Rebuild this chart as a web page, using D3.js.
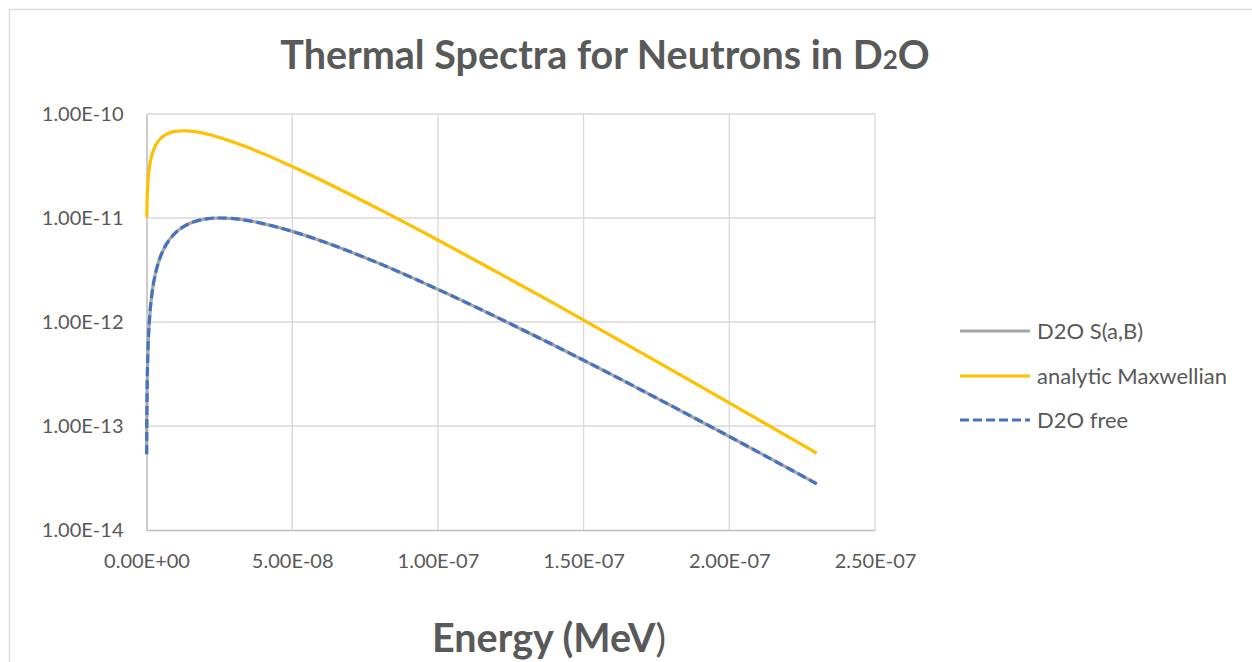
<!DOCTYPE html>
<html>
<head>
<meta charset="utf-8">
<script src="https://cdn.jsdelivr.net/npm/d3@7"></script>
<style>
	body { margin: 0; background: #fff; }
	svg { display: block; }
	text { font-family: Lato, "Open Sans", sans-serif; fill: #595959; }
</style>
</head>
<body>
<div id="chart"></div>
<script>
// values (energy in MeV)
let energyMaxwell = [1e-10, 2e-10, 5e-10, 1e-9, 2e-9, 3e-9, 4e-9, 6e-9, 8e-9, 1e-8, 1.3e-8, 1.6e-8, 2e-8, 2.5e-8, 3e-8, 4e-8, 5e-8, 6e-8, 8e-8, 1e-7, 1.2e-7, 1.4e-7, 1.6e-7, 1.8e-7, 2e-7, 2.2e-7, 2.3e-7];
let maxwellian = [1.01e-11, 1.42e-11, 2.22e-11, 3.07e-11, 4.18e-11, 4.92e-11, 5.46e-11, 6.18e-11, 6.59e-11, 6.81e-11, 6.90e-11, 6.80e-11, 6.49e-11, 5.95e-11, 5.35e-11, 4.16e-11, 3.13e-11, 2.31e-11, 1.21e-11, 6.14e-12, 3.05e-12, 1.50e-12, 7.25e-13, 3.49e-13, 1.67e-13, 7.94e-14, 5.47e-14];

let energyD2O = [5e-11, 1e-10, 2e-10, 5e-10, 1e-9, 2e-9, 3e-9, 4e-9, 6e-9, 8e-9, 1e-8, 1.3e-8, 1.6e-8, 2e-8, 2.5e-8, 3e-8, 4e-8, 5e-8, 6e-8, 8e-8, 1e-7, 1.2e-7, 1.4e-7, 1.6e-7, 1.8e-7, 2e-7, 2.2e-7, 2.3e-7];
let d2oSab = [5.36e-14, 1.07e-13, 2.13e-13, 5.27e-13, 1.03e-12, 1.99e-12, 2.86e-12, 3.67e-12, 5.08e-12, 6.26e-12, 7.24e-12, 8.35e-12, 9.13e-12, 9.75e-12, 1.00e-11, 9.85e-12, 8.84e-12, 7.44e-12, 6.02e-12, 3.64e-12, 2.06e-12, 1.12e-12, 5.94e-13, 3.08e-13, 1.57e-13, 7.93e-14, 3.95e-14, 2.78e-14];
let d2oFree = [5.36e-14, 1.07e-13, 2.13e-13, 5.27e-13, 1.03e-12, 1.99e-12, 2.86e-12, 3.67e-12, 5.08e-12, 6.26e-12, 7.24e-12, 8.35e-12, 9.13e-12, 9.75e-12, 1.00e-11, 9.85e-12, 8.84e-12, 7.44e-12, 6.02e-12, 3.64e-12, 2.06e-12, 1.12e-12, 5.94e-13, 3.08e-13, 1.57e-13, 7.93e-14, 3.95e-14, 2.78e-14];

let xTicks = [0, 5e-8, 1e-7, 1.5e-7, 2e-7, 2.5e-7];
let yTicks = [1e-10, 1e-11, 1e-12, 1e-13, 1e-14];

let seriesNames = ["D2O S(a,B)", "analytic Maxwellian", "D2O free"];

let W = 1252, H = 662;
let plot = { left: 146.5, right: 875, top: 114, bottom: 530 };

let svg = d3.select('#chart').append('svg')
	.attr('width', W)
	.attr('height', H);

// chart frame
svg.append('rect')
	.attr('x', 9.5).attr('y', 9.5)
	.attr('width', 1300).attr('height', 700)
	.attr('fill', 'none')
	.attr('stroke', '#d9d9d9')
	.attr('stroke-width', 1.3);

let x = d3.scaleLinear()
	.domain([0, 2.5e-7])
	.range([plot.left, plot.right]);

let y = d3.scaleLog()
	.domain([1e-14, 1e-10])
	.range([plot.bottom, plot.top]);

// Excel style scientific format, e.g. 1.00E-10
function fmtE(v) {
	let s = v.toExponential(2).toUpperCase();
	let parts = s.split('E');
	let exp = +parts[1];
	let sign = exp < 0 ? '-' : '+';
	let e = Math.abs(exp);
	return parts[0] + 'E' + sign + (e < 10 ? '0' + e : e);
}

// gridlines
svg.append('g').selectAll('line')
	.data(yTicks.slice(0, 4))
	.enter().append('line')
	.attr('x1', plot.left).attr('x2', plot.right)
	.attr('y1', d => y(d)).attr('y2', d => y(d))
	.attr('stroke', '#d9d9d9').attr('stroke-width', 1.3);

svg.append('g').selectAll('line')
	.data(xTicks.slice(1))
	.enter().append('line')
	.attr('x1', d => x(d)).attr('x2', d => x(d))
	.attr('y1', plot.top).attr('y2', plot.bottom)
	.attr('stroke', '#d9d9d9').attr('stroke-width', 1.3);

// axes
let xAxis = d3.axisBottom(x)
	.tickValues(xTicks)
	.tickFormat(fmtE)
	.tickSize(0)
	.tickPadding(24);

let yAxis = d3.axisLeft(y)
	.tickValues(yTicks)
	.tickFormat(fmtE)
	.tickSize(0)
	.tickPadding(23);

let gx = svg.append('g')
	.attr('transform', 'translate(0,' + plot.bottom + ')')
	.call(xAxis);

let gy = svg.append('g')
	.attr('transform', 'translate(' + plot.left + ',0)')
	.call(yAxis);

[gx, gy].forEach(function(g) {
	g.select('.domain').attr('stroke', '#bfbfbf').attr('stroke-width', 1.6);
	g.selectAll('text')
		.attr('fill', '#595959')
		.style('font-family', 'Lato, sans-serif')
		.style('font-size', '20px');
});

// lines
let series = [
	{ name: seriesNames[0], xs: energyD2O, ys: d2oSab, color: '#a5a5a5', dash: null },
	{ name: seriesNames[1], xs: energyMaxwell, ys: maxwellian, color: '#ffc000', dash: null },
	{ name: seriesNames[2], xs: energyD2O, ys: d2oFree, color: '#4472c4', dash: '9,4' }
];

let line = d3.line()
	.x(d => x(d[0]))
	.y(d => y(d[1]))
	.curve(d3.curveMonotoneX);

series.forEach(function(s) {
	let pts = s.xs.map((e, i) => [e, s.ys[i]]);
	svg.append('path')
		.datum(pts)
		.attr('d', line)
		.attr('fill', 'none')
		.attr('stroke', s.color)
		.attr('stroke-width', 3.2)
		.attr('stroke-linejoin', 'round')
		.attr('stroke-dasharray', s.dash);
});

// legend
let legendY = [331, 376, 420];
let legend = svg.append('g');
series.forEach(function(s, i) {
	legend.append('line')
		.attr('x1', 960).attr('x2', 1030)
		.attr('y1', legendY[i]).attr('y2', legendY[i])
		.attr('stroke', s.color)
		.attr('stroke-width', 3.2)
		.attr('stroke-dasharray', s.dash);
	legend.append('text')
		.attr('x', 1037)
		.attr('y', legendY[i])
		.attr('dy', '0.35em')
		.style('font-size', '22px')
		.text(s.name);
});

// titles
let title = svg.append('text')
	.attr('x', 605)
	.attr('y', 69)
	.attr('text-anchor', 'middle')
	.style('font-size', '39.5px')
	.style('font-weight', 700);
title.append('tspan').text('Thermal Spectra for Neutrons in D');
title.append('tspan').style('font-size', '26px').text('2');
title.append('tspan').text('O');

let xTitle = svg.append('text')
	.attr('x', 549)
	.attr('y', 652)
	.attr('text-anchor', 'middle')
	.style('font-size', '39.5px')
	.style('font-weight', 700);
xTitle.append('tspan').text('Energy (MeV');
xTitle.append('tspan').style('font-weight', 400).text(')');
</script>
</body>
</html>
